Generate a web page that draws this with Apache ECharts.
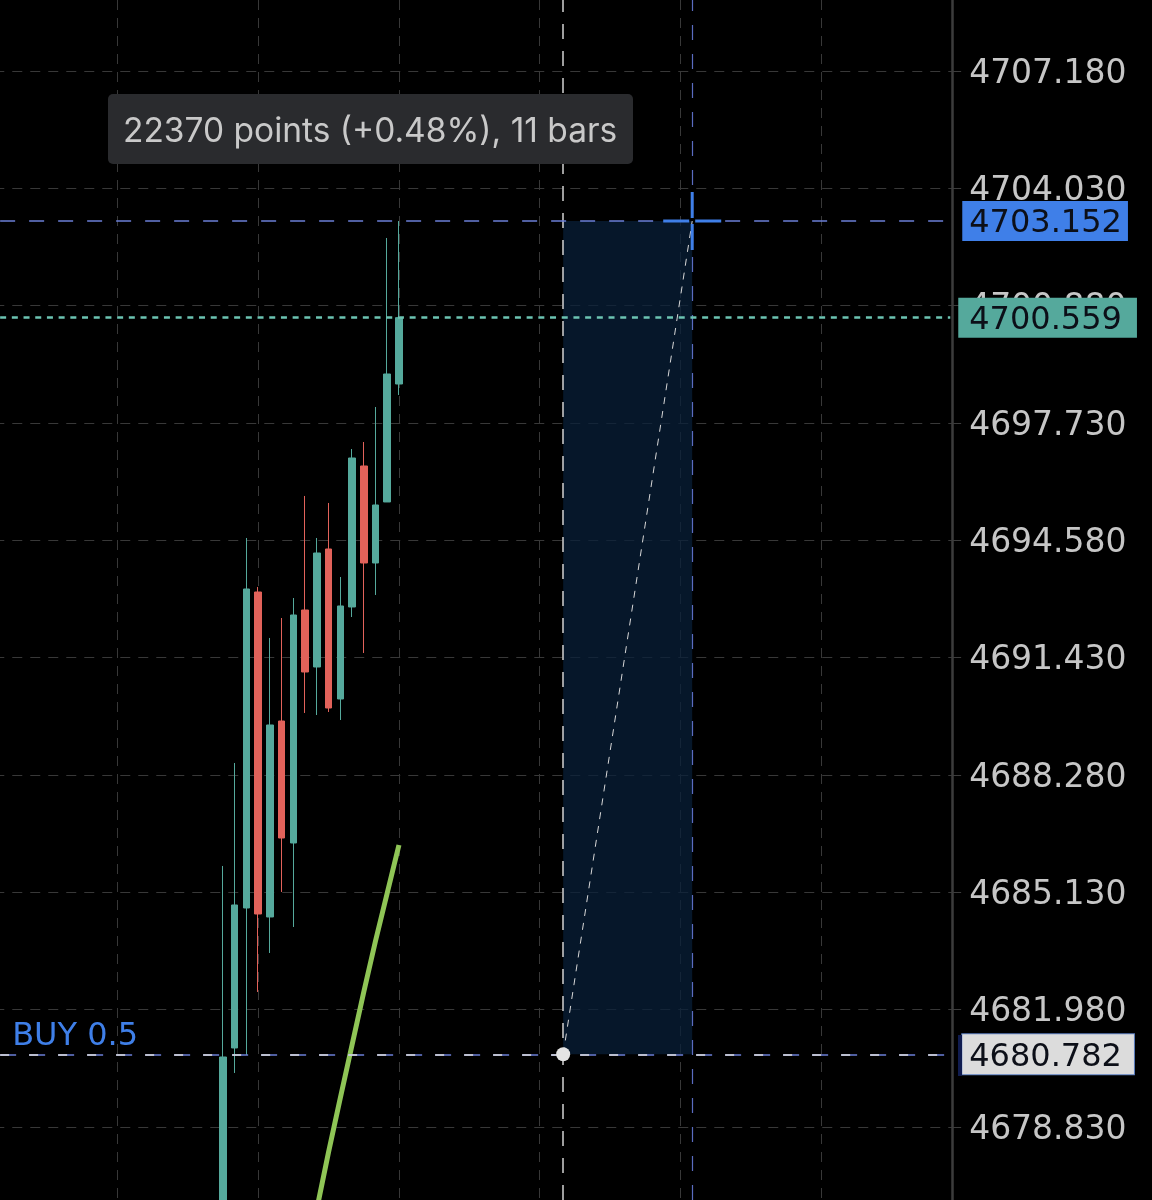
<!DOCTYPE html>
<html>
<head>
<meta charset="utf-8">
<style>
html,body{margin:0;padding:0;background:#000;}
#chart{width:1152px;height:1200px;}
</style>
<script src="https://cdn.jsdelivr.net/npm/echarts@6/dist/echarts.min.js"></script>
</head>
<body>
<div id="chart"></div>
<script>
// bars, newest last, first one sits on slot firstBar
const firstBar = 19;
const opens  = [4674.000,4680.952,4684.710,4693.193,4684.469,4689.730,4686.455,4692.710,4691.180,4694.348,4690.321,4692.791,4696.576,4693.972,4695.610,4698.777];
const closes = [4680.710,4684.791,4693.274,4684.549,4689.623,4686.589,4692.576,4691.046,4694.240,4690.079,4692.818,4696.791,4693.972,4695.529,4699.046,4700.559];
const lows   = [4672.000,4680.281,4680.764,4682.455,4683.502,4685.140,4684.200,4689.945,4689.891,4689.972,4689.757,4692.522,4691.556,4693.113,4695.610,4698.482];
const highs  = [4685.838,4688.603,4694.643,4693.328,4691.959,4692.495,4693.032,4695.771,4694.643,4695.583,4693.596,4697.032,4697.220,4698.160,4702.697,4703.152];

// moving average, slots 27..34
const maStart = 27;
const maValues = [4676.630,4678.160,4679.610,4681.032,4682.455,4683.824,4685.113,4686.401];

const tickLabels = [4678.83,4681.98,4685.13,4688.28,4691.43,4694.58,4697.73,4700.88,4704.03,4707.18];
const cursorPrice = 4703.152;
const lastPrice = 4700.559;
const buyPrice = 4680.782;
const measureFrom = 48;
const measureTo = 59;
const slotCount = 82;
const yMin = 4676.871;
const yMax = 4709.086;

const slots = [];
for (let i = 0; i < slotCount; i++) slots.push(String(i));

const candleData = slots.map((s, i) => {
    const k = i - firstBar;
    if (k < 0 || k >= opens.length) return ['-', '-', '-', '-'];
    return [opens[k], closes[k], lows[k], highs[k]];
});
const maData = slots.map((s, i) => {
    const k = i - maStart;
    return (k < 0 || k >= maValues.length) ? null : maValues[k];
});

const UP = '#55a99c';
const DOWN = '#e2625a';
const BLUE = '#3f7fe8';
const DIM_BLUE = '#6b7fd6';
const GRID = '#383838';
const FONT = '"DejaVu Sans"';

function hline(price, lineStyle, label) {
    return [
        { coord: [0, price], lineStyle: lineStyle, label: label || { show: false } },
        { coord: [slotCount - 1, price] }
    ];
}
function vline(slot, lineStyle) {
    return [
        { coord: [slot, yMin], lineStyle: lineStyle, label: { show: false } },
        { coord: [slot, yMax] }
    ];
}
// text token carries the extra top padding so digits sit centred in the tag
function priceTag(price, bg, dist, pad, extra) {
    return Object.assign({
        show: true,
        position: 'end',
        distance: dist,
        formatter: '{a|' + price.toFixed(3) + '}',
        rich: {
            a: { fontFamily: FONT, fontSize: 32, color: '#0c0f18', padding: [6, 0, 0, 0] }
        },
        backgroundColor: bg,
        padding: pad
    }, extra || {});
}

const chart = echarts.init(document.getElementById('chart'));
chart.setOption({
    backgroundColor: '#000',
    animation: false,
    grid: { left: -5.73, top: 0, width: 961.86, height: 1200, containLabel: false, outerBoundsMode: 'none' },
    xAxis: {
        type: 'category',
        data: slots,
        axisLine: { show: false },
        axisTick: { show: false },
        axisLabel: { show: false },
        splitLine: {
            show: true,
            alignWithLabel: true,
            interval: i => i >= 10 && (i - 10) % 12 === 0,
            lineStyle: { color: GRID, width: 1, type: [10, 8] }
        }
    },
    yAxis: {
        type: 'value',
        position: 'right',
        offset: -4,
        min: yMin,
        max: yMax,
        axisLine: { show: true, lineStyle: { color: '#3c3c3c', width: 2.5 } },
        axisTick: { show: true, length: 9, customValues: tickLabels, lineStyle: { color: '#3c3c3c' } },
        axisLabel: {
            show: true,
            customValues: tickLabels,
            margin: 17,
            formatter: v => '{a|' + v.toFixed(3) + '}',
            rich: {
                a: { color: '#c6c6c6', fontFamily: FONT, fontSize: 33, padding: [6, 0, 0, 0] }
            }
        },
        splitLine: { show: true, lineStyle: { color: GRID, width: 1, type: [10, 8] } }
    },
    series: [
        {
            type: 'candlestick',
            data: candleData,
            barWidth: 7,
            itemStyle: { color: UP, color0: DOWN, borderColor: UP, borderColor0: DOWN, borderWidth: 1 }
        },
        {
            type: 'line',
            data: maData,
            showSymbol: false,
            symbol: 'none',
            connectNulls: false,
            lineStyle: { color: '#8fc556', width: 5, cap: 'butt' },
            markArea: {
                silent: true,
                itemStyle: { color: '#081f38', opacity: 0.75 },
                data: [[{ coord: [measureFrom, cursorPrice] }, { coord: [measureTo, buyPrice] }]]
            },
            markLine: {
                silent: true,
                symbol: 'none',
                data: [
                    vline(measureFrom, { color: '#d2d2d2', width: 1.5, type: [15, 12] }),
                    vline(measureTo, { color: '#5a6cc0', width: 1.2, type: [15, 14] }),
                    hline(cursorPrice, { color: DIM_BLUE, width: 1.5, type: [15, 14] },
                        priceTag(cursorPrice, BLUE, 12, [1, 6, 1, 7])),
                    hline(lastPrice, { color: '#6cc4b2', width: 2.5, type: [6, 5.7] },
                        priceTag(lastPrice, UP, 8, [1, 15, 1, 11])),
                    hline(buyPrice, { color: DIM_BLUE, width: 1.5, type: [16, 13] }, {
                        show: true,
                        position: 'insideStartTop',
                        distance: 2,
                        formatter: 'BUY 0.5',
                        color: BLUE,
                        fontFamily: FONT,
                        fontSize: 32,
                        padding: [0, 0, 0, 10]
                    }),
                    hline(buyPrice, { color: '#e0e0e0', width: 1.5, type: [9, 20] },
                        priceTag(buyPrice, '#dcdcdc', 12, [1, 12, 1, 7], { borderColor: '#5d7fc0', borderWidth: 1 })),
                    [
                        { coord: [measureFrom, buyPrice], lineStyle: { color: '#d8d8d8', width: 1, type: [7, 7] }, label: { show: false } },
                        { coord: [measureTo, cursorPrice] }
                    ]
                ]
            },
            markPoint: {
                silent: true,
                symbol: 'path://M0 27.5H26V30.5H0Z M32 27.5H58V30.5H32Z M27.5 0H30.5V26H27.5Z M27.5 32H30.5V58H27.5Z',
                symbolSize: 58,
                itemStyle: { color: BLUE },
                label: { show: false },
                data: [{ coord: [measureTo, cursorPrice] }]
            }
        },
        {
            type: 'scatter',
            data: [[measureFrom, buyPrice]],
            symbolSize: 14,
            itemStyle: { color: '#e4e4e4', opacity: 1 },
            silent: true,
            z: 5
        }
    ],
    graphic: [
        {
            type: 'rect',
            left: 108,
            top: 94,
            shape: { width: 525, height: 70, r: 5 },
            style: { fill: '#2a2b2e' },
            z: 10
        },
        {
            type: 'text',
            left: 123,
            top: 115,
            style: {
                text: '22370 points (+0.48%), 11 bars',
                fill: '#c9c9c9',
                fontFamily: 'Inter',
                fontSize: 33.5
            },
            z: 11
        },
        // navy bar left of the buy tag
        {
            type: 'rect',
            left: 958,
            top: 1035,
            shape: { width: 4, height: 41 },
            style: { fill: '#101c50' },
            z: 10
        }
    ]
});
</script>
</body>
</html>
